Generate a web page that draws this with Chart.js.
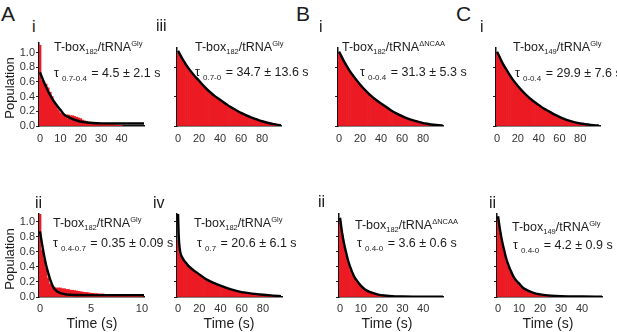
<!DOCTYPE html>
<html><head><meta charset="utf-8">
<script src="https://cdn.jsdelivr.net/npm/chart.js@4.4.1/dist/chart.umd.min.js"></script>
<style>
html,body{margin:0;padding:0;background:#fff}
body{width:617px;height:332px;position:relative;overflow:hidden;font-family:"Liberation Sans",Arial,Helvetica,sans-serif;color:#1c1c1c}
#holder canvas{position:absolute}
.t{position:absolute;white-space:nowrap;line-height:1}
.big{font-size:21px}
.num{font-size:16px}
.lab{font-size:12.5px}
.lab sub,.lab sup{font-size:7.5px;line-height:0}
.lab sub{vertical-align:-3px}
.lab sup{vertical-align:5px}
.tau sub{font-size:8px;vertical-align:-4px;margin-left:3px;margin-right:1px;line-height:0}
.ax{font-size:14px;width:90px;text-align:center;line-height:14px}
.pop{font-size:13px;width:90px;text-align:center;line-height:14px;transform:rotate(-90deg)}
</style></head>
<body>
<div id="holder"></div>

<div class="t big" style="left:1px;top:3px">A</div>
<div class="t big" style="left:296px;top:3px">B</div>
<div class="t big" style="left:456px;top:3px">C</div>

<div class="t num" style="left:32px;top:19px">i</div>
<div class="t num" style="left:156px;top:18px">iii</div>
<div class="t num" style="left:319px;top:19px">i</div>
<div class="t num" style="left:480px;top:19px">i</div>
<div class="t num" style="left:35px;top:195px">ii</div>
<div class="t num" style="left:153px;top:195px">iv</div>
<div class="t num" style="left:318px;top:194px">ii</div>
<div class="t num" style="left:489px;top:195px">ii</div>

<div class="t lab" style="left:54px;top:41px">T-box<sub>182</sub>/tRNA<sup>Gly</sup></div>
<div class="t lab tau" style="left:54px;top:67px">τ<sub>0.7-0.4</sub> = 4.5 ± 2.1 s</div>
<div class="t lab" style="left:195px;top:41px">T-box<sub>182</sub>/tRNA<sup>Gly</sup></div>
<div class="t lab tau" style="left:195px;top:66px">τ<sub>0.7-0</sub> = 34.7 ± 13.6 s</div>
<div class="t lab" style="left:342px;top:41px">T-box<sub>182</sub>/tRNA<sup>ΔNCAA</sup></div>
<div class="t lab tau" style="left:360px;top:66px">τ<sub>0-0.4</sub> = 31.3 ± 5.3 s</div>
<div class="t lab" style="left:513px;top:41px">T-box<sub>149</sub>/tRNA<sup>Gly</sup></div>
<div class="t lab tau" style="left:515px;top:67px">τ<sub>0-0.4</sub> = 29.9 ± 7.6 s</div>

<div class="t lab" style="left:53px;top:217px">T-box<sub>182</sub>/tRNA<sup>Gly</sup></div>
<div class="t lab tau" style="left:53px;top:237px">τ<sub>0.4-0.7</sub> = 0.35 ± 0.09 s</div>
<div class="t lab" style="left:194px;top:217px">T-box<sub>182</sub>/tRNA<sup>Gly</sup></div>
<div class="t lab tau" style="left:197px;top:237px">τ<sub>0.7</sub> = 20.6 ± 6.1 s</div>
<div class="t lab" style="left:355px;top:219px">T-box<sub>182</sub>/tRNA<sup>ΔNCAA</sup></div>
<div class="t lab tau" style="left:357px;top:237px">τ<sub>0.4-0</sub> = 3.6 ± 0.6 s</div>
<div class="t lab" style="left:512px;top:221px">T-box<sub>149</sub>/tRNA<sup>Gly</sup></div>
<div class="t lab tau" style="left:513px;top:239px">τ<sub>0.4-0</sub> = 4.2 ± 0.9 s</div>

<div class="t pop" style="left:-35px;top:81px">Population</div>
<div class="t pop" style="left:-35px;top:252px">Population</div>
<div class="t ax" style="left:47px;top:316px">Time (s)</div>
<div class="t ax" style="left:184px;top:316px">Time (s)</div>
<div class="t ax" style="left:342px;top:316px">Time (s)</div>
<div class="t ax" style="left:503px;top:316px">Time (s)</div>

<script>
// ---------- DATA ----------
const yTickValues = [0, 0.2, 0.4, 0.6, 0.8, 1.0];
const xTicksA1 = [0, 10, 20, 30, 40];
const xTicks80 = [0, 20, 40, 60, 80];
const xTicks10 = [0, 5, 10];
const xTicks40 = [0, 10, 20, 30, 40];

// A-i
const aiTime = [0,1,2,3,4,5,6,7,8,9,10,11,12,13,14,15,16,17,18,19,20,21,22,23,24,25,26,27,28,29,30,31,32,33,34,35,36,37,38,39,40];
const aiPop  = [1.1,0.62,0.6,0.57,0.52,0.46,0.4,0.33,0.27,0.22,0.18,0.16,0.15,0.15,0.15,0.14,0.14,0.13,0.12,0.11,0.1,0.08,0.07,0.06,0.05,0.045,0.04,0.04,0.035,0.03,0.03,0.03,0.025,0.025,0.02,0.02,0.02,0.015,0.01,0.01,0.005];
const aiFitTime = [0,1,2,3,4,5,6,8,10,12,14,16,18,20,23,26,30,40,51];
const aiFitPop  = [0.73,0.66,0.59,0.53,0.47,0.42,0.37,0.29,0.22,0.15,0.12,0.095,0.075,0.06,0.048,0.04,0.036,0.035,0.035];

// shared 2 s bins
const bins2 = [0,2,4,6,8,10,12,14,16,18,20,22,24,26,28,30,32,34,36,38,40,42,44,46,48,50,52,54,56,58,60,62,64,66,68,70,72,74,76,78,80,82,84,86,88,90,92,94];

// A-iii
const aiiiPop = [1.0,0.97,0.92,0.87,0.83,0.78,0.75,0.71,0.68,0.64,0.61,0.58,0.55,0.52,0.49,0.46,0.44,0.41,0.39,0.37,0.35,0.33,0.31,0.29,0.27,0.25,0.24,0.22,0.2,0.19,0.18,0.17,0.16,0.14,0.12,0.1,0.09,0.08,0.07,0.06,0.05,0.045,0.04,0.03,0.025,0.02,0.015,0.01];
const aiiiFitTime = [0,5,10,15,20,25,30,35,40,45,50,55,60,65,70,75,80,85,90,95,98];
const aiiiFitPop  = [1.03,0.9,0.79,0.7,0.62,0.54,0.47,0.41,0.36,0.31,0.26,0.22,0.18,0.145,0.115,0.09,0.065,0.045,0.03,0.015,0.01];

// B-i
const biPop = [1.0,0.95,0.9,0.85,0.8,0.75,0.71,0.67,0.63,0.6,0.56,0.53,0.5,0.47,0.44,0.41,0.39,0.36,0.34,0.32,0.3,0.28,0.26,0.24,0.22,0.2,0.19,0.17,0.15,0.14,0.13,0.12,0.1,0.09,0.085,0.075,0.065,0.06,0.05,0.045,0.04,0.035,0.03,0.025,0.02,0.015,0.01,0.008];
const biFitTime = [0,5,10,15,20,25,30,35,40,45,50,55,60,65,70,75,80,85,90,95,99];
const biFitPop  = [1.02,0.88,0.76,0.66,0.57,0.49,0.42,0.36,0.31,0.26,0.21,0.17,0.135,0.105,0.08,0.06,0.04,0.028,0.018,0.01,0.005];

// C-i
const ciPop = [1.0,0.95,0.89,0.84,0.79,0.74,0.7,0.65,0.61,0.58,0.54,0.51,0.48,0.45,0.42,0.39,0.37,0.34,0.32,0.3,0.28,0.26,0.24,0.22,0.21,0.19,0.17,0.16,0.14,0.13,0.12,0.11,0.1,0.09,0.08,0.07,0.06,0.055,0.05,0.04,0.035,0.03,0.025,0.02,0.015,0.012,0.008,0.005];
const ciFitTime = [0,5,10,15,20,25,30,35,40,45,50,55,60,65,70,75,80,85,90,95,98];
const ciFitPop  = [1.02,0.87,0.75,0.64,0.55,0.47,0.4,0.34,0.29,0.24,0.2,0.16,0.125,0.095,0.07,0.05,0.035,0.024,0.015,0.008,0.005];

// A-ii
const aiiTime = [0,0.2,0.4,0.6,0.8,1.0,1.2,1.4,1.6,1.8,2.0,2.2,2.4,2.6,2.8,3.0,3.2,3.4,3.6,3.8,4.0,4.2,4.4,4.6,4.8,5.0,5.2,5.4,5.6,5.8,6.0,6.2,6.4,6.6,6.8,7.0,7.2,7.4,7.6,7.8,8.0,8.2,8.4,8.6,8.8,9.0,9.2,9.4,9.6,9.8,10.0];
const aiiPop  = [1.1,0.62,0.5,0.38,0.25,0.17,0.14,0.13,0.12,0.12,0.12,0.11,0.11,0.1,0.1,0.09,0.09,0.085,0.08,0.075,0.07,0.065,0.06,0.06,0.055,0.05,0.05,0.045,0.045,0.04,0.04,0.04,0.035,0.035,0.03,0.03,0.03,0.025,0.02,0.015,0.015,0.015,0.01,0.01,0.01,0.01,0.01,0.01,0.01,0.01,0.01];
const aiiFitTime = [0,0.2,0.4,0.6,0.8,1.0,1.3,1.6,2.0,2.5,3,5,10.2];
const aiiFitPop  = [0.87,0.7,0.55,0.42,0.32,0.23,0.13,0.08,0.05,0.035,0.03,0.025,0.025];

// A-iv
const aivPop = [0.75,0.56,0.51,0.47,0.43,0.4,0.37,0.35,0.33,0.31,0.29,0.27,0.25,0.23,0.22,0.2,0.19,0.18,0.16,0.15,0.14,0.13,0.12,0.11,0.1,0.09,0.085,0.08,0.07,0.065,0.06,0.055,0.05,0.045,0.04,0.035,0.03,0.028,0.025,0.022,0.02,0.018,0.015,0.012,0.01,0.008,0.006,0.005];
const aivFitTime = [0,0.5,1,2,3,5,7,10,15,20,25,30,40,50,60,70,80,90,97];
const aivFitPop  = [1.1,0.85,0.72,0.6,0.55,0.5,0.46,0.41,0.35,0.3,0.25,0.21,0.15,0.1,0.065,0.045,0.03,0.018,0.01];

// shared 1 s bins
const bins1 = [0,1,2,3,4,5,6,7,8,9,10,11,12,13,14,15,16,17,18,19,20,21,22,23,24,25,26,27,28,29,30,31,32,33,34,35];

// B-ii
const biiPop = [1.0,0.82,0.67,0.55,0.45,0.37,0.3,0.25,0.2,0.17,0.14,0.12,0.1,0.085,0.07,0.06,0.05,0.045,0.035,0.03,0.025,0.02,0.018,0.015,0.012,0.01,0.01,0.008,0.008,0.006,0.005,0.005,0.004,0.004,0.003,0.003];
const biiFitTime = [0,1,2,3,4,5,6,7,8,10,12,15,18,20,25,30,40,49.5];
const biiFitPop  = [1.05,0.85,0.7,0.58,0.47,0.39,0.32,0.26,0.22,0.15,0.1,0.06,0.035,0.025,0.012,0.008,0.005,0.005];

// C-ii
const ciiPop = [1.02,0.85,0.7,0.58,0.48,0.4,0.33,0.27,0.23,0.19,0.16,0.13,0.11,0.09,0.075,0.065,0.055,0.045,0.038,0.032,0.027,0.022,0.018,0.015,0.012,0.01,0.008,0.007,0.006,0.005,0.004,0.004,0.003,0.003,0.002,0.002];
const ciiFitTime = [0,1,2,3,4,5,6,7,8,10,12,15,18,20,25,30,40,49.5];
const ciiFitPop  = [1.07,0.88,0.73,0.61,0.5,0.42,0.35,0.29,0.24,0.18,0.12,0.075,0.045,0.035,0.018,0.01,0.006,0.005];

// ---------- LAYOUT ----------
const PL = 40, PR = 8, PT = 8, PB = 26;
const panels = [
  {t:aiTime, p:aiPop, ft:aiFitTime, fp:aiFitPop, xt:xTicksA1, yl:true,  box:[39,43,144,126], xr:[-0.5,51], ymax:1.13, tp:6},
  {t:bins2, p:aiiiPop, ft:aiiiFitTime, fp:aiiiFitPop, xt:xTicks80, yl:false, box:[177,48,281,126], xr:[-1,98], ymax:1.07, tp:6},
  {t:bins2, p:biPop, ft:biFitTime, fp:biFitPop, xt:xTicks80, yl:false, box:[338,48,443,126], xr:[-1,99], ymax:1.07, tp:6},
  {t:bins2, p:ciPop, ft:ciFitTime, fp:ciFitPop, xt:xTicks80, yl:false, box:[496,48,600,126], xr:[-1,99], ymax:1.07, tp:6},
  {t:aiiTime, p:aiiPop, ft:aiiFitTime, fp:aiiFitPop, xt:xTicks10, yl:true, box:[39,214,144,297], xr:[-0.1,10.2], ymax:1.1, tp:5},
  {t:bins2, p:aivPop, ft:aivFitTime, fp:aivFitPop, xt:xTicks80, yl:false, box:[177,214,282,297], xr:[-1,98], ymax:1.1, tp:5},
  {t:bins1, p:biiPop, ft:biiFitTime, fp:biiFitPop, xt:xTicks40, yl:false, box:[339,214,443,297], xr:[-0.5,49.5], ymax:1.1, tp:5},
  {t:bins1, p:ciiPop, ft:ciiFitTime, fp:ciiFitPop, xt:xTicks40, yl:false, box:[497,214,602,297], xr:[-0.5,49.5], ymax:1.1, tp:5}
];

const FONT = 'Liberation Sans, Arial, sans-serif';
const holder = document.getElementById('holder');

panels.forEach(pn => {
  const [l, t, r, b] = pn.box;
  const cv = document.createElement('canvas');
  const w = PL + (r - l) + PR, h = PT + (b - t) + PB;
  cv.width = w; cv.height = h;
  cv.style.width = w + 'px'; cv.style.height = h + 'px';
  cv.style.left = (l - PL) + 'px'; cv.style.top = (t - PT) + 'px';
  holder.appendChild(cv);
  new Chart(cv, {
    type: 'bar',
    data: {
      datasets: [
        {type:'line', data: pn.ft.map((x,i)=>({x:x, y:pn.fp[i]})), borderColor:'#000', borderWidth:2.4,
         pointRadius:0, cubicInterpolationMode:'monotone', order:0, fill:false},
        {type:'bar', data: pn.t.map((x,i)=>({x:x, y:pn.p[i]})), backgroundColor:'#ec1b23', borderWidth:0,
         barPercentage:1, categoryPercentage:1, order:1}
      ]
    },
    options: {
      responsive:false, animation:false, devicePixelRatio:1, events:[],
      layout:{padding:{top:PT, right:PR, left:0, bottom:0}},
      plugins:{legend:{display:false}, tooltip:{enabled:false}},
      scales:{
        x:{type:'linear', min:pn.xr[0], max:pn.xr[1], offset:false,
           grid:{display:false, drawTicks:false, offset:false},
           border:{display:true, color:'#111', width:1.5},
           ticks:{font:{size:11, family:FONT}, color:'#333', padding:pn.tp, maxRotation:0, autoSkip:false},
           afterBuildTicks: s => { s.ticks = pn.xt.map(v=>({value:v})); },
           afterFit: s => { s.height = PB; s.paddingLeft = 0; s.paddingRight = 0; }},
        y:{type:'linear', min:0, max:pn.ymax,
           grid:{display:true, drawOnChartArea:false, drawTicks:true, tickLength:3, color:'#222', lineWidth:1},
           border:{display:true, color:'#111', width:1.5},
           ticks:{font:{size:11, family:FONT}, color:'#333', padding:1,
                  callback: v => pn.yl ? Number(v).toFixed(1) : ''},
           afterBuildTicks: s => { s.ticks = yTickValues.map(v=>({value:v})); },
           afterFit: s => { s.width = PL; s.paddingTop = 0; s.paddingBottom = 0; }}
      }
    }
  });
});
</script>
</body></html>
